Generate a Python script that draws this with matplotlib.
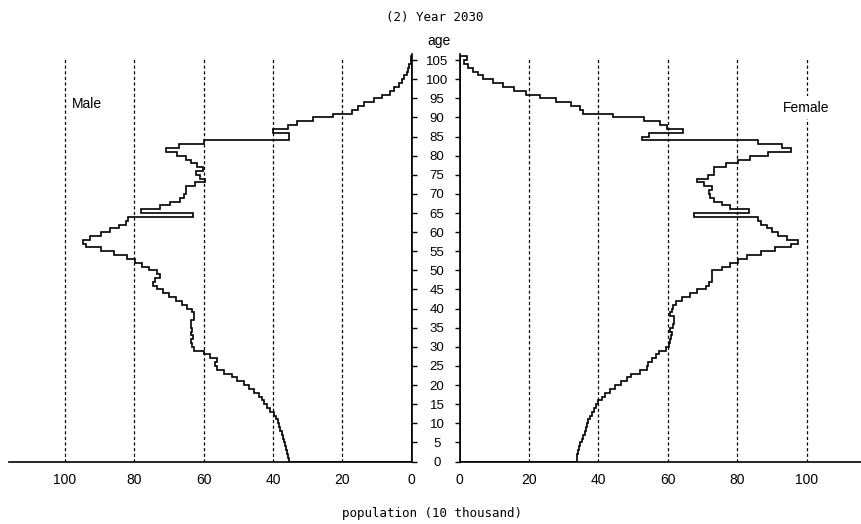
import matplotlib.pyplot as plt
import numpy as np

# population by single year of age, 0..105 (unit: 10 thousand)
ages = np.arange(106)
male = [35.5, 35.8, 36.0, 36.2, 36.5, 36.8, 37.1, 37.5, 37.9, 38.3,
        38.7, 39.1, 39.8, 40.8, 41.7, 42.5, 43.2, 44.1, 45.6, 47.0,
        48.5, 50.4, 51.8, 54.2, 56.3, 56.6, 56.3, 58.1, 59.8, 62.7,
        63.3, 63.6, 63.1, 63.6, 63.3, 63.8, 63.8, 62.7, 62.9, 63.3,
        64.8, 66.2, 68.1, 70.1, 71.7, 73.4, 74.6, 73.9, 72.6, 73.4,
        75.8, 77.7, 79.7, 82.1, 85.9, 89.7, 93.9, 94.8, 92.8, 89.7,
        86.9, 84.5, 82.5, 81.9, 63.1, 78.0, 72.5, 69.6, 66.7, 65.7,
        65.1, 65.2, 62.5, 59.6, 61.1, 62.2, 60.3, 62.0, 63.8, 65.2,
        67.8, 70.9, 67.0, 60.0, 35.3, 35.3, 39.9, 35.6, 33.2, 28.4,
        22.8, 17.3, 15.4, 13.7, 11.0, 8.6, 6.4, 5.0, 3.8, 2.9,
        2.1, 1.4, 1.0, 0.7, 0.3, 0.2]
female = [33.7, 33.9, 34.2, 34.5, 34.8, 35.2, 35.6, 36.0, 36.4, 36.8,
          37.1, 37.6, 38.1, 38.6, 39.2, 39.9, 40.9, 41.8, 43.3, 44.7,
          46.6, 48.1, 49.5, 51.9, 54.0, 54.3, 55.5, 56.5, 57.6, 59.6,
          60.4, 60.6, 61.0, 61.3, 60.7, 61.5, 61.7, 61.7, 60.7, 61.3,
          61.5, 62.5, 64.2, 66.3, 68.4, 70.9, 72.0, 72.8, 72.6, 72.8,
          75.7, 77.8, 80.2, 82.8, 86.9, 90.8, 95.5, 97.4, 94.3, 91.8,
          90.0, 88.5, 86.8, 86.1, 67.6, 83.5, 78.0, 75.6, 73.2, 72.2,
          72.0, 72.7, 70.3, 68.5, 71.7, 73.2, 73.2, 76.8, 80.1, 83.7,
          89.0, 95.5, 92.9, 86.1, 52.5, 54.7, 64.3, 59.7, 57.8, 53.0,
          44.2, 35.6, 34.6, 32.0, 27.9, 23.1, 19.1, 15.6, 12.6, 9.5,
          6.6, 5.2, 3.7, 2.5, 1.2, 2.0]
xticks = [0, 20, 40, 60, 80, 100]
yticks = list(range(0, 106, 5))

W, H = 861, 524
fig = plt.figure(figsize=(W / 100, H / 100), dpi=100)
tick_font = ['Liberation Sans', 'DejaVu Sans']
mono = ['DejaVu Sans Mono']

bottom = 62.5 / H
height = 407.1 / H
ax_m = fig.add_axes([9 / W, bottom, 402.7 / W, height])
ax_f = fig.add_axes([459.7 / W, bottom, 401.3 / W, height])


def outline(ax, vals):
    # step outline of the pyramid half, closed along the zero axis
    xs = np.concatenate([[0], np.repeat(vals, 2), [0, 0]])
    edges = np.arange(len(vals) + 1)
    ys = np.concatenate([[0], np.repeat(edges, 2)[1:-1], [edges[-1], 0]])
    ax.plot(xs, ys, color='black', lw=1.2, solid_joinstyle='miter', zorder=4)


for ax, vals in [(ax_m, male), (ax_f, female)]:
    ax.vlines(xticks[1:], 0, 105.6, colors='black', linestyles=(0, (2.5, 2)), lw=0.9)
    outline(ax, vals)
    ax.set_ylim(0, 106.5)
    ax.set_xticks(xticks)
    ax.set_xticklabels([str(v) for v in xticks], family=tick_font, fontsize=10)
    ax.tick_params(axis='x', length=0, pad=8)
    ax.spines['top'].set_visible(False)
    for s in ax.spines.values():
        s.set_linewidth(1.2)
    ax.set_yticks(yticks)

# male side: values run to the left
ax_m.set_xlim(116.15, 0)
ax_m.spines['left'].set_visible(False)
ax_m.yaxis.tick_right()
ax_m.tick_params(axis='y', direction='out', length=3.6, width=1, pad=14.6)
ax_m.set_yticklabels([str(v) for v in yticks], family=tick_font, fontsize=9.5)
plt.setp(ax_m.get_yticklabels(), ha='center')

ax_f.set_xlim(0, 115.7)
ax_f.spines['right'].set_visible(False)
ax_f.tick_params(axis='y', direction='out', length=3.6, width=1, labelleft=False)

ax_m.text(98, 93.6, 'Male', ha='left', va='center', family='Liberation Sans', fontsize=10)
ax_f.text(99.8, 92.6, 'Female', ha='center', va='center', family='Liberation Sans', fontsize=10,
          bbox=dict(facecolor='white', edgecolor='none', pad=3.5), zorder=5)

fig.text(435 / W, 1 - 17 / H, '(2) Year 2030', ha='center', va='center', family=mono, fontsize=9)
fig.text(439 / W, 1 - 41 / H, 'age', ha='center', va='center', family='Liberation Sans', fontsize=10)
fig.text(432 / W, 1 - 513 / H, 'population (10 thousand)', ha='center', va='center',
         family=mono, fontsize=9)

fig.savefig('out.png', dpi=100)
